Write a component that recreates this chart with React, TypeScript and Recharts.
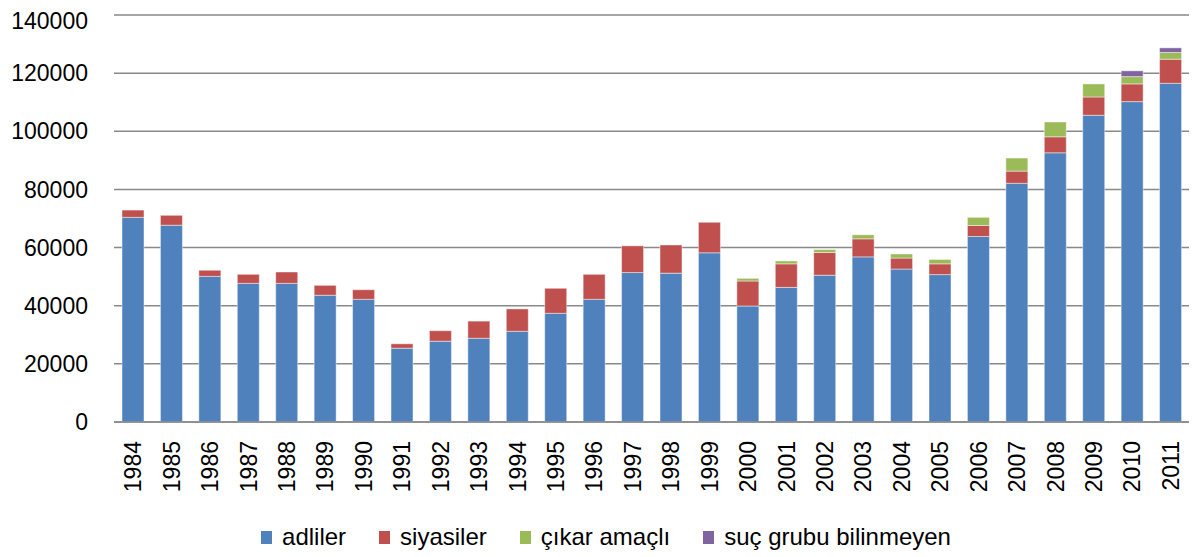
import { Bar, BarChart, CartesianGrid, Legend, XAxis, YAxis } from 'recharts';

const years = [
  '1984', '1985', '1986', '1987', '1988', '1989', '1990', '1991', '1992', '1993',
  '1994', '1995', '1996', '1997', '1998', '1999', '2000', '2001', '2002', '2003',
  '2004', '2005', '2006', '2007', '2008', '2009', '2010', '2011',
];

const adliler = [
  70400, 67700, 50100, 47700, 47700, 43600, 42200, 25400, 27800, 28800,
  31200, 37400, 42200, 51400, 51200, 58200, 39900, 46300, 50500, 56800,
  52600, 50700, 63800, 82100, 92600, 105500, 110200, 116500,
];

const siyasiler = [
  2500, 3400, 2100, 3100, 3900, 3400, 3300, 1500, 3600, 5900,
  7700, 8600, 8600, 9200, 9700, 10500, 8600, 8100, 7800, 6200,
  3800, 3700, 3800, 4200, 5500, 6300, 6100, 8300,
];

const cikarAmacli = [
  0, 0, 0, 0, 0, 0, 0, 0, 0, 0,
  0, 0, 0, 0, 0, 0, 900, 1000, 1000, 1400,
  1400, 1500, 2800, 4500, 5100, 4500, 2500, 2300,
];

const bilinmeyen = [
  0, 0, 0, 0, 0, 0, 0, 0, 0, 0,
  0, 0, 0, 0, 0, 0, 0, 0, 0, 0,
  0, 0, 0, 0, 0, 0, 2000, 1600,
];

const yTicks = [0, 20000, 40000, 60000, 80000, 100000, 120000, 140000];

const series = [
  { key: 'adliler', name: 'adliler', color: 'rgb(79 129 189)' },
  { key: 'siyasiler', name: 'siyasiler', color: 'rgb(192 80 77)' },
  { key: 'cikar', name: 'çıkar amaçlı', color: 'rgb(155 187 89)' },
  { key: 'bilinmeyen', name: 'suç grubu bilinmeyen', color: 'rgb(128 100 162)' },
];

const data = years.map((year, i) => ({
  year,
  adliler: adliler[i],
  siyasiler: siyasiler[i],
  cikar: cikarAmacli[i],
  bilinmeyen: bilinmeyen[i],
}));

const FONT = '"Liberation Sans", Arial, sans-serif';
const GRID = 'rgb(137 137 137)';

function YearTick({ x, y, payload }: any) {
  const ty = y + 11;
  return (
    <text
      x={x}
      y={ty}
      transform={`rotate(-90, ${x}, ${ty})`}
      textAnchor="end"
      dominantBaseline="central"
      fontSize={23}
      fontFamily={FONT}
      fill="#000"
    >
      {payload.value}
    </text>
  );
}

// legend drawn from the series list so the order stays as in the original
function LegendRow() {
  return (
    <div style={{ display: 'flex', justifyContent: 'center', alignItems: 'center', gap: 33, height: 30, fontFamily: FONT, fontSize: 24, color: '#000', paddingLeft: 14 }}>
      {series.map((s) => (
        <div key={s.key} style={{ display: 'flex', alignItems: 'center' }}>
          <span style={{ display: 'inline-block', width: 11, height: 13, background: s.color, marginRight: 10 }} />
          {s.name}
        </div>
      ))}
    </div>
  );
}

export default function App() {
  return (
    <BarChart width={1189} height={549} data={data} margin={{ top: 7, right: 7, bottom: 5, left: 0 }}>
      <CartesianGrid stroke={GRID} strokeWidth={1.5} vertical={false} />
      <XAxis dataKey="year" interval={0} height={100} tickLine={false} axisLine={{ stroke: GRID, strokeWidth: 1.5 }} tick={<YearTick />} />
      <YAxis
        width={106}
        domain={[0, 140000]}
        ticks={yTicks}
        axisLine={false}
        tickLine={false}
        tickMargin={20}
        tick={{ fontSize: 23, fontFamily: FONT, fill: '#000' }}
      />
      <Legend verticalAlign="bottom" content={<LegendRow />} />
      {series.map((s) => (
        <Bar
          key={s.key}
          dataKey={s.key}
          name={s.name}
          stackId="a"
          fill={s.color}
          stroke="rgba(255,255,255,0.45)"
          barSize={22}
          isAnimationActive={false}
        />
      ))}
    </BarChart>
  );
}
